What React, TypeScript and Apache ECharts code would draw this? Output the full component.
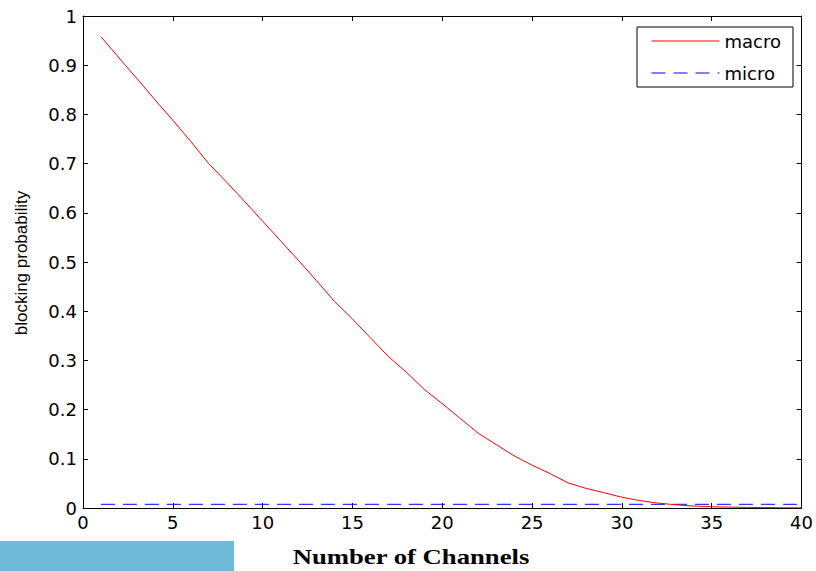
import React, { useEffect, useRef } from "react";
import * as echarts from "echarts";

const channels = [1,2,3,4,5,6,7,8,9,10,11,12,13,14,15,16,17,18,19,20,21,22,23,24,25,26,27,28,29,30,31,32,33,34,35,36,37,38,39,40];
const macro = [0.958,0.915,0.873,0.830,0.788,0.745,0.700,0.662,0.623,0.583,0.543,0.503,0.462,0.420,0.384,0.346,0.308,0.276,0.241,0.212,0.182,0.152,0.129,0.106,0.087,0.070,0.051,0.040,0.031,0.022,0.015,0.010,0.0065,0.004,0.0025,0.0018,0.0012,0.0008,0.0005,0.0003];
const micro = channels.map(() => 0.0075);
const seriesNames = ["macro", "micro"];
const xTitle = "Number of Channels";
const yTitle = "blocking probability";

export default function App() {
  const ref = useRef<HTMLDivElement>(null);
  useEffect(() => {
    if (!ref.current) return;
    const chart = echarts.init(ref.current, null, { renderer: "svg" });
    const font = "DejaVu Sans";
    const axisCommon = {
      type: "value" as const,
      axisLine: { show: true, onZero: false, lineStyle: { color: "#000", width: 1 } },
      axisTick: { show: true, inside: true, length: 5, lineStyle: { color: "#000" } },
      splitLine: { show: false },
    };
    chart.setOption({
      animation: false,
      backgroundColor: "#fff",
      grid: { left: 83, top: 16, right: 14, bottom: 63, containLabel: false },
      xAxis: [
        {
          ...axisCommon, position: "bottom", min: 0, max: 40, interval: 5,
          axisLabel: { color: "#000", fontFamily: font, fontSize: 18, margin: 5 },
        },
        {
          ...axisCommon, position: "top", min: 0, max: 40, interval: 5,
          axisLabel: { show: false },
        },
      ],
      yAxis: [
        {
          ...axisCommon, position: "left", min: 0, max: 1, interval: 0.1,
          axisLabel: { color: "#000", fontFamily: font, fontSize: 18, margin: 6 },
        },
        {
          ...axisCommon, position: "right", min: 0, max: 1, interval: 0.1,
          axisLabel: { show: false },
        },
      ],
      legend: {
        orient: "vertical",
        right: 23,
        top: 27,
        padding: [5, 12, 5, 14],
        itemGap: 14,
        itemWidth: 68,
        itemHeight: 14,
        borderColor: "#000",
        borderWidth: 1,
        borderRadius: 0,
        backgroundColor: "#fff",
        itemStyle: { opacity: 0 },
        lineStyle: { width: 1 },
        textStyle: { color: "#000", fontFamily: font, fontSize: 18, padding: [0, 6, 0, 0] },
        data: seriesNames,
      },
      series: [
        {
          name: seriesNames[0], type: "line", showSymbol: false, symbol: "none",
          data: channels.map((c, i) => [c, macro[i]]),
          lineStyle: { color: "#ff0000", width: 1 },
          itemStyle: { color: "#ff0000" },
          z: 3,
        },
        {
          name: seriesNames[1], type: "line", showSymbol: false, symbol: "none",
          data: channels.map((c, i) => [c, micro[i]]),
          lineStyle: { color: "#0000ff", width: 1, type: [14, 8] },
          itemStyle: { color: "#0000ff" },
          z: 2,
        },
      ],
      graphic: [
        {
          type: "rect", left: 0, top: 541, shape: { width: 234, height: 30 },
          style: { fill: "#6fb9d9" },
        },
        {
          type: "text", x: 411, y: 557, scaleX: 1.27,
          style: {
            text: xTitle, fill: "#000", font: "bold 21px 'Liberation Serif'",
            align: "center", verticalAlign: "middle",
          },
        },
        {
          type: "text", x: 21, y: 263, rotation: Math.PI / 2,
          style: {
            text: yTitle, fill: "#000", font: "17px 'Liberation Sans'",
            align: "center", verticalAlign: "middle",
          },
        },
      ],
    });
    return () => chart.dispose();
  }, []);
  return (
    <div
      ref={ref}
      style={{ position: "fixed", left: 0, top: 0, width: 816, height: 571 }}
    />
  );
}
